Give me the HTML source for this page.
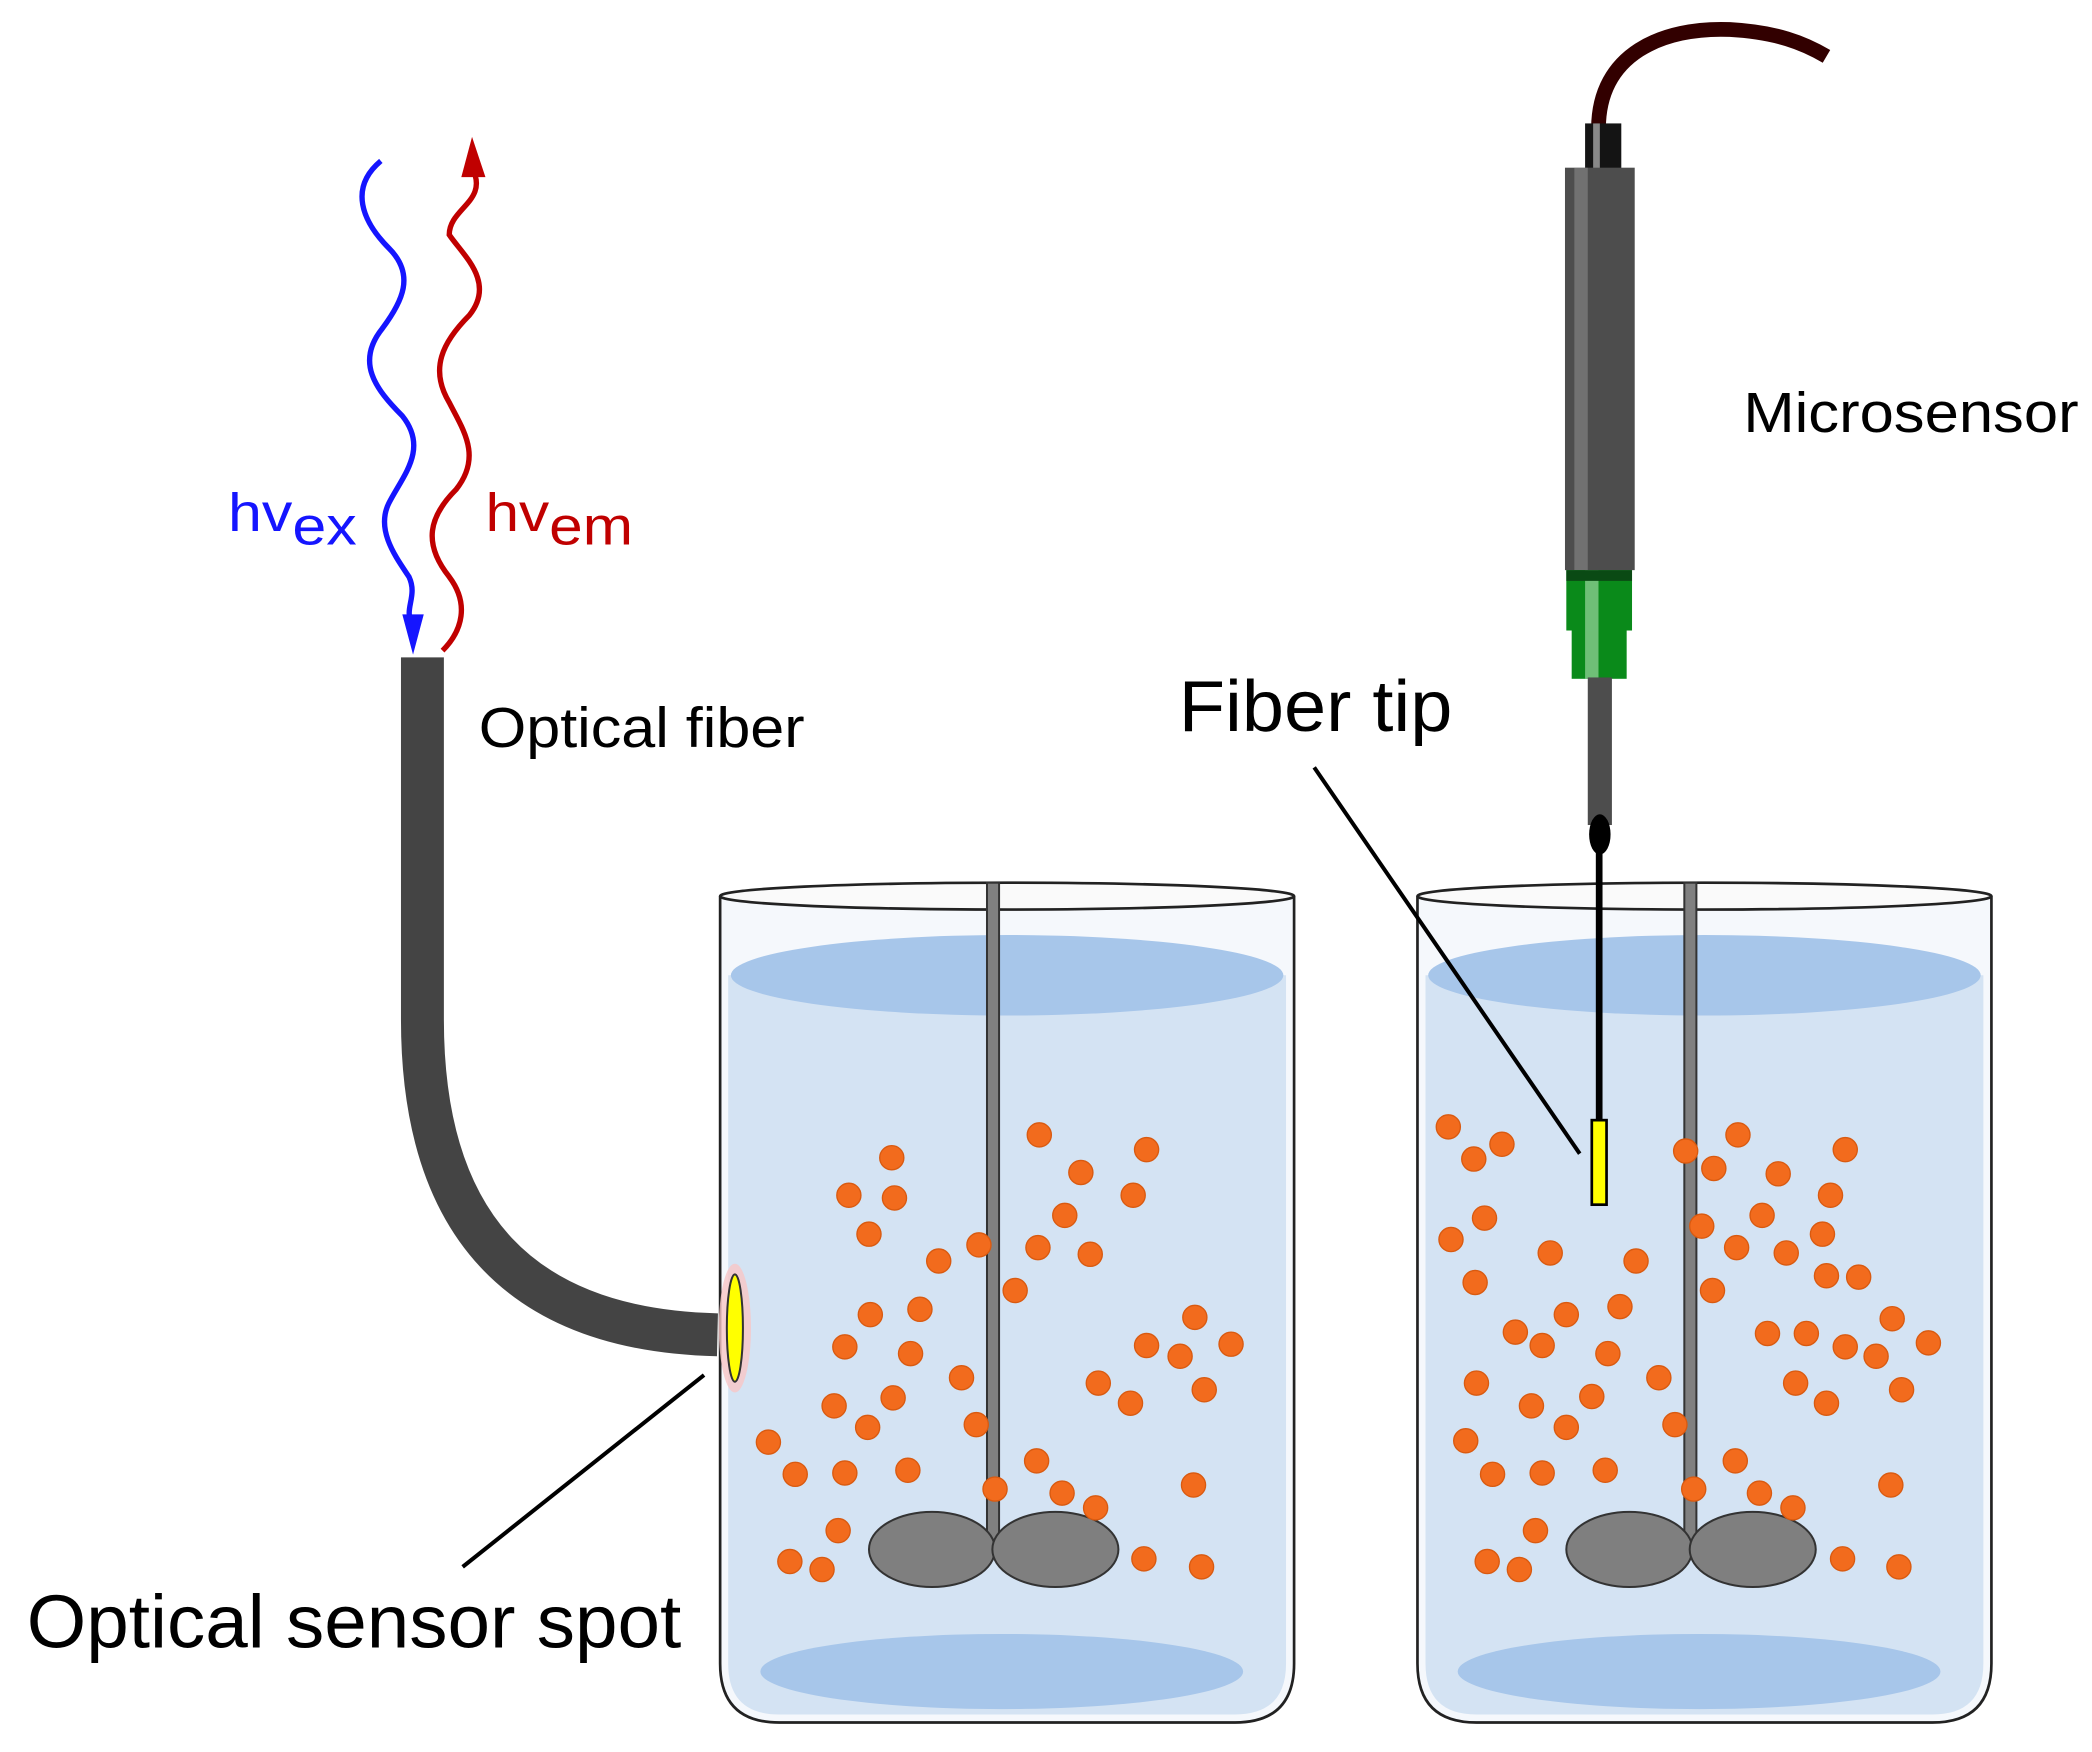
<!DOCTYPE html>
<html><head><meta charset="utf-8"><style>html,body{margin:0;padding:0;background:#fff}svg{display:block}</style></head>
<body>
<svg width="2092" height="1752" viewBox="0 0 1560 1306" preserveAspectRatio="none" xmlns="http://www.w3.org/2000/svg" font-family="Liberation Sans, sans-serif">
<defs>
<g id="beaker">
<path d="M0,668 L0,1240 Q0,1284 44,1284 L384,1284 Q428,1284 428,1240 L428,668" fill="#f5f8fc" stroke="#222" stroke-width="2"/>
<path d="M6,727 L6,1240 Q6,1278 44,1278 L384,1278 Q422,1278 422,1240 L422,727 Z" fill="#d4e3f3"/>
<ellipse cx="214" cy="727" rx="206" ry="30" fill="#a7c6ea"/>
<ellipse cx="210" cy="1246" rx="180" ry="28" fill="#a7c6ea"/>
<ellipse cx="214" cy="668" rx="214" ry="10" fill="#fafafa" stroke="#222" stroke-width="2"/>
<rect x="199" y="658" width="9" height="490" fill="#808080" stroke="#333" stroke-width="1.5"/>
<ellipse cx="158" cy="1155" rx="47" ry="28" fill="#7f7f7f" stroke="#333" stroke-width="1.5"/>
<ellipse cx="250" cy="1155" rx="47" ry="28" fill="#7f7f7f" stroke="#333" stroke-width="1.5"/>
</g>
</defs>
<use href="#beaker" x="537"/>
<use href="#beaker" x="1057"/>
<g fill="#f26b1d" stroke="#d95a10" stroke-width="1">
<circle cx="665" cy="863" r="9"/><circle cx="633" cy="891" r="9"/><circle cx="667" cy="893" r="9"/><circle cx="648" cy="920" r="9"/><circle cx="775" cy="846" r="9"/><circle cx="806" cy="874" r="9"/><circle cx="855" cy="857" r="9"/><circle cx="845" cy="891" r="9"/><circle cx="794" cy="906" r="9"/><circle cx="774" cy="930" r="9"/><circle cx="813" cy="935" r="9"/><circle cx="730" cy="928" r="9"/><circle cx="700" cy="940" r="9"/><circle cx="757" cy="962" r="9"/><circle cx="649" cy="980" r="9"/><circle cx="686" cy="976" r="9"/><circle cx="630" cy="1004" r="9"/><circle cx="679" cy="1009" r="9"/><circle cx="717" cy="1027" r="9"/><circle cx="622" cy="1048" r="9"/><circle cx="666" cy="1042" r="9"/><circle cx="647" cy="1064" r="9"/><circle cx="728" cy="1062" r="9"/><circle cx="573" cy="1075" r="9"/><circle cx="593" cy="1099" r="9"/><circle cx="630" cy="1098" r="9"/><circle cx="677" cy="1096" r="9"/><circle cx="773" cy="1089" r="9"/><circle cx="742" cy="1110" r="9"/><circle cx="792" cy="1113" r="9"/><circle cx="817" cy="1124" r="9"/><circle cx="625" cy="1141" r="9"/><circle cx="589" cy="1164" r="9"/><circle cx="613" cy="1170" r="9"/><circle cx="855" cy="1003" r="9"/><circle cx="891" cy="982" r="9"/><circle cx="918" cy="1002" r="9"/><circle cx="880" cy="1011" r="9"/><circle cx="819" cy="1031" r="9"/><circle cx="843" cy="1046" r="9"/><circle cx="898" cy="1036" r="9"/><circle cx="890" cy="1107" r="9"/><circle cx="853" cy="1162" r="9"/><circle cx="896" cy="1168" r="9"/>
<circle cx="1080" cy="840" r="9"/><circle cx="1099" cy="864" r="9"/><circle cx="1120" cy="853" r="9"/><circle cx="1107" cy="908" r="9"/><circle cx="1082" cy="924" r="9"/><circle cx="1100" cy="956" r="9"/><circle cx="1156" cy="934" r="9"/><circle cx="1220" cy="940" r="9"/><circle cx="1168" cy="980" r="9"/><circle cx="1208" cy="974" r="9"/><circle cx="1130" cy="993" r="9"/><circle cx="1150" cy="1003" r="9"/><circle cx="1199" cy="1009" r="9"/><circle cx="1101" cy="1031" r="9"/><circle cx="1237" cy="1027" r="9"/><circle cx="1187" cy="1041" r="9"/><circle cx="1142" cy="1048" r="9"/><circle cx="1168" cy="1064" r="9"/><circle cx="1249" cy="1062" r="9"/><circle cx="1093" cy="1074" r="9"/><circle cx="1113" cy="1099" r="9"/><circle cx="1150" cy="1098" r="9"/><circle cx="1197" cy="1096" r="9"/><circle cx="1257" cy="858" r="9"/><circle cx="1278" cy="871" r="9"/><circle cx="1296" cy="846" r="9"/><circle cx="1326" cy="875" r="9"/><circle cx="1376" cy="857" r="9"/><circle cx="1365" cy="891" r="9"/><circle cx="1314" cy="906" r="9"/><circle cx="1269" cy="914" r="9"/><circle cx="1295" cy="930" r="9"/><circle cx="1332" cy="934" r="9"/><circle cx="1359" cy="920" r="9"/><circle cx="1362" cy="951" r="9"/><circle cx="1386" cy="952" r="9"/><circle cx="1277" cy="962" r="9"/><circle cx="1318" cy="994" r="9"/><circle cx="1347" cy="994" r="9"/><circle cx="1376" cy="1004" r="9"/><circle cx="1399" cy="1011" r="9"/><circle cx="1411" cy="983" r="9"/><circle cx="1438" cy="1001" r="9"/><circle cx="1339" cy="1031" r="9"/><circle cx="1362" cy="1046" r="9"/><circle cx="1418" cy="1036" r="9"/><circle cx="1294" cy="1089" r="9"/><circle cx="1263" cy="1110" r="9"/><circle cx="1312" cy="1113" r="9"/><circle cx="1337" cy="1124" r="9"/><circle cx="1410" cy="1107" r="9"/><circle cx="1145" cy="1141" r="9"/><circle cx="1109" cy="1164" r="9"/><circle cx="1133" cy="1170" r="9"/><circle cx="1374" cy="1162" r="9"/><circle cx="1416" cy="1168" r="9"/>
</g>
<path d="M315,490 L315,760 Q315,990 535,995" fill="none" stroke="#444" stroke-width="32"/>
<ellipse cx="548" cy="990" rx="12" ry="48" fill="#f7c6c6" opacity="0.8"/>
<ellipse cx="548" cy="990" rx="6" ry="40" fill="#ffff00" stroke="#333" stroke-width="1.5"/>
<path d="M284,120 C260,140 270,165 290,185 C310,205 300,225 285,245 C265,270 280,290 300,310 C320,335 300,355 290,375 C280,395 295,415 305,430 C312,445 300,455 308,465" fill="none" stroke="#1515ff" stroke-width="4"/>
<polygon points="300,458 316,458 308,488" fill="#1515ff"/>
<path d="M330,485 C345,470 350,450 335,430 C315,405 320,385 340,365 C360,340 345,320 335,300 C320,275 330,255 350,235 C370,210 345,190 335,175 C335,155 365,150 352,125" fill="none" stroke="#c00000" stroke-width="4"/>
<polygon points="344,132 362,132 352,102" fill="#c00000"/>
<path d="M1192,96 C1192,40 1240,20 1290,22 C1325,24 1345,32 1362,42" fill="none" stroke="#320000" stroke-width="11"/>
<rect x="1182" y="92" width="27" height="34" fill="#141414"/>
<rect x="1188" y="92" width="5" height="34" fill="#888"/>
<rect x="1167" y="125" width="52" height="300" fill="#4d4d4d"/>
<rect x="1174" y="125" width="10" height="300" fill="#8a8a8a" opacity="0.6"/>
<rect x="1168" y="425" width="49" height="45" fill="#0a8a1a"/>
<rect x="1172" y="470" width="41" height="36" fill="#0a8a1a"/>
<rect x="1182" y="425" width="10" height="81" fill="#9ad6a0" opacity="0.7"/>
<rect x="1168" y="425" width="49" height="8" fill="#0a4a14"/>
<rect x="1184" y="505" width="18" height="110" fill="#4d4d4d"/>
<ellipse cx="1193" cy="622" rx="8" ry="15" fill="#000"/>
<rect x="1190" y="625" width="5" height="215" fill="#000"/>
<rect x="1187" y="835" width="11" height="63" fill="#ffff00" stroke="#000" stroke-width="2"/>
<line x1="980" y1="572" x2="1178" y2="860" stroke="#000" stroke-width="3"/>
<line x1="525" y1="1025" x2="345" y2="1168" stroke="#000" stroke-width="3"/>
<text x="170" y="396" font-size="40" fill="#1515ff" textLength="96" lengthAdjust="spacingAndGlyphs">hv<tspan dy="10">ex</tspan></text>
<text x="362" y="396" font-size="40" fill="#c00000" textLength="110" lengthAdjust="spacingAndGlyphs">hv<tspan dy="10">em</tspan></text>
<text x="357" y="557" font-size="42" fill="#000" textLength="243" lengthAdjust="spacingAndGlyphs">Optical fiber</text>
<text x="879" y="545" font-size="54" fill="#000" textLength="204" lengthAdjust="spacingAndGlyphs">Fiber tip</text>
<text x="1300" y="322" font-size="42" fill="#000" textLength="250" lengthAdjust="spacingAndGlyphs">Microsensor</text>
<text x="20" y="1228" font-size="56" fill="#000" textLength="488" lengthAdjust="spacingAndGlyphs">Optical sensor spot</text>
</svg>
</body></html>
